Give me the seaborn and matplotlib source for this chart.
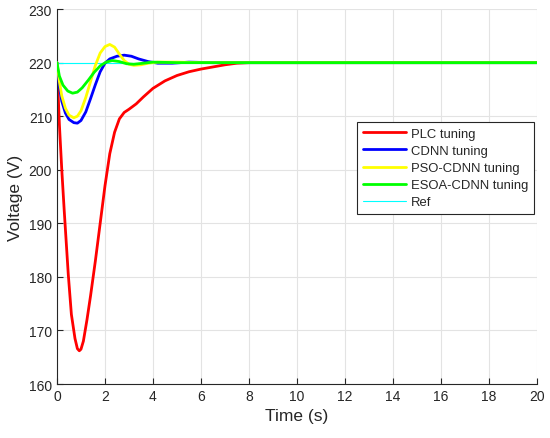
import pandas as pd
import seaborn as sns
import matplotlib.pyplot as plt

sns.set_style("white")
plt.rcParams["font.family"] = ["Liberation Sans", "DejaVu Sans"]

# values
t_plc = [0, 0.05, 0.1, 0.2, 0.3, 0.47, 0.6, 0.75, 0.85, 0.93, 1.0, 1.1, 1.25, 1.4, 1.6, 1.8,
         2.0, 2.2, 2.4, 2.6, 2.8, 3.0, 3.3, 3.6, 4.0, 4.5, 5.0, 5.5, 6.0, 6.5, 7.0, 7.5, 8.0, 9.0, 20]
v_plc = [220, 214, 208.5, 200, 192.5, 180.5, 173, 168.5, 166.6, 166.2, 166.5, 168, 172, 176.5, 183, 190,
         197, 203, 207, 209.5, 210.7, 211.3, 212.3, 213.6, 215.2, 216.6, 217.6, 218.3, 218.8, 219.2, 219.6, 219.9, 220, 220, 220]

t_cdnn = [0, 0.1, 0.2, 0.35, 0.5, 0.7, 0.85, 1.0, 1.2, 1.4, 1.6, 1.8, 2.0, 2.2, 2.5, 2.8,
          3.1, 3.4, 3.8, 4.2, 4.8, 5.5, 6.5, 20]
v_cdnn = [220, 215.5, 212.8, 210.6, 209.4, 208.8, 208.7, 209.2, 210.8, 213.3, 215.9, 218.3, 219.9, 220.7, 221.2, 221.4,
          221.2, 220.7, 220.2, 219.9, 219.9, 220.1, 220, 220]

t_pso = [0, 0.1, 0.2, 0.35, 0.5, 0.7, 0.85, 1.0, 1.2, 1.4, 1.6, 1.8, 2.0, 2.2, 2.4, 2.6,
         2.8, 3.0, 3.2, 3.5, 3.8, 4.2, 5.0, 6.0, 20]
v_pso = [220, 216.5, 213.8, 211.5, 210.2, 209.7, 210, 211, 213.5, 216.5, 219.5, 221.8, 223, 223.4, 222.9, 221.6,
         220.4, 219.7, 219.5, 219.6, 219.9, 220.1, 220.1, 220, 220]

t_esoa = [0, 0.1, 0.25, 0.45, 0.65, 0.85, 1.05, 1.3, 1.55, 1.8, 2.05, 2.3, 2.6, 2.9, 3.2, 3.6, 4.0, 5.0, 20]
v_esoa = [220, 217.5, 215.8, 214.7, 214.3, 214.5, 215.3, 216.7, 218.2, 219.4, 220.1, 220.4, 220.2, 219.8, 219.7, 219.9, 220.1, 220, 220]

t_ref = [0, 20]
v_ref = [220, 220]

series = [
    ("PLC tuning", t_plc, v_plc, "#ff0000"),
    ("CDNN tuning", t_cdnn, v_cdnn, "#0000ff"),
    ("PSO-CDNN tuning", t_pso, v_pso, "#ffff00"),
    ("ESOA-CDNN tuning", t_esoa, v_esoa, "#00ff00"),
]

fig = plt.figure(figsize=(5.5, 4.39), dpi=100)
ax = fig.add_axes([0.1036, 0.123, 0.8727, 0.854])

# ref drawn underneath, but listed last in the legend
sns.lineplot(x=t_ref, y=v_ref, color="#00ffff", linewidth=0.8, ax=ax, zorder=1)
for i, (name, t, v, c) in enumerate(series):
    sns.lineplot(x=t, y=v, color=c, linewidth=2.0, ax=ax, label=name, zorder=2 + i,
                 estimator=None, sort=False)

handles, labels = ax.get_legend_handles_labels()
ref_handle = plt.Line2D([], [], color="#00ffff", linewidth=0.8)
leg = ax.legend(handles + [ref_handle], labels + ["Ref"], loc="upper left",
                bbox_to_anchor=(0.649, 0.72), bbox_transform=fig.transFigure,
                fontsize=9.4, frameon=True, fancybox=False,
                edgecolor="#262626", framealpha=1, handlelength=3.3, borderpad=0.45,
                labelspacing=0.38, handletextpad=0.4, borderaxespad=0)
leg.get_frame().set_linewidth(0.8)

ax.set_xlim(0, 20)
ax.set_ylim(160, 230)
ax.set_xticks(range(0, 21, 2))
ax.set_yticks(range(160, 231, 10))
ax.grid(True, color="#e3e3e3", linewidth=0.8)
ax.set_axisbelow(True)
for s in ["top", "right"]:
    ax.spines[s].set_visible(False)
for s in ["left", "bottom"]:
    ax.spines[s].set_color("#262626")
    ax.spines[s].set_linewidth(0.8)
ax.tick_params(direction="in", length=4, width=0.8, colors="#262626", labelsize=10,
               left=True, bottom=True)
ax.set_xlabel("Time (s)", fontsize=12.5, color="#262626")
ax.set_ylabel("Voltage (V)", fontsize=12.5, color="#262626")

fig.savefig("out.png", dpi=100)
